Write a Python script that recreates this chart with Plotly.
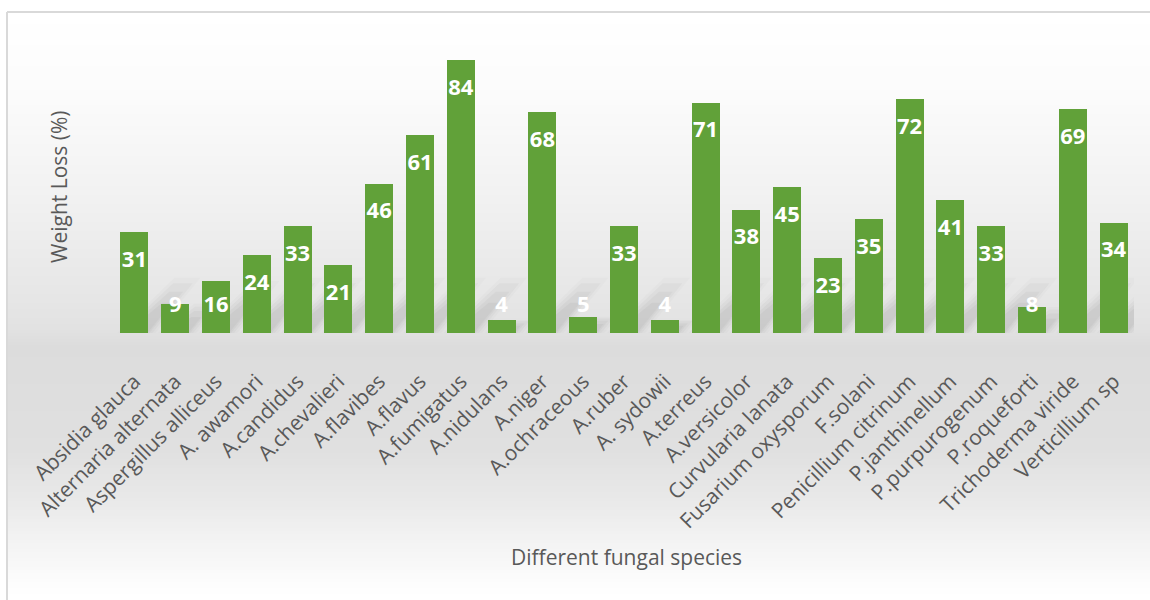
import plotly.graph_objects as go

# Weight loss (%) caused by each fungal species
species = [
    "Absidia glauca", "Alternaria alternata", "Aspergillus alliceus", "A. awamori",
    "A.candidus", "A.chevalieri", "A.flavibes", "A.flavus", "A.fumigatus",
    "A.nidulans", "A.niger", "A.ochraceous", "A.ruber", "A. sydowii", "A.terreus",
    "A.versicolor", "Curvularia lanata", "Fusarium oxysporum", "F.solani",
    "Penicillium citrinum", "P.janthinellum", "P.purpurogenum", "P.roqueforti",
    "Trichoderma viride", "Verticillium sp",
]
weight_loss = [31, 9, 16, 24, 33, 21, 46, 61, 84, 4, 68, 5, 33, 4, 71,
               38, 45, 23, 35, 72, 41, 33, 8, 69, 34]

W, H = 1150, 600
ML, MR, MT, MB = 114, 16, 41, 267
PLOT_H = H - MT - MB
PLOT_W = W - ML - MR
Y_MAX = 90

BAR = "#61a139"
TXT = "#595959"
FONT = "Open Sans"

xs = list(range(len(species)))


def py_to_paper(py):
    return (H - MB - py) / PLOT_H


def px_to_paper(px):
    return (px - ML) / PLOT_W


def hexmix(c1, c2, t):
    a = [int(c1[i:i + 2], 16) for i in (1, 3, 5)]
    b = [int(c2[i:i + 2], 16) for i in (1, 3, 5)]
    return "#" + "".join(f"{round(a[k] + (b[k] - a[k]) * t):02x}" for k in range(3))


# vertical background shading of the chart area (pixel y, colour)
stops = [(12, "#ffffff"), (100, "#fbfbfb"), (200, "#f1f1f1"), (300, "#e6e6e6"),
         (333, "#e1e1e1"), (345, "#dcdcdc"), (450, "#e0e0e0"), (500, "#e9e9e9"),
         (550, "#f5f5f5"), (590, "#fefefe"), (600, "#ffffff")]


def shade(py):
    for (y0, c0), (y1, c1) in zip(stops, stops[1:]):
        if y0 <= py <= y1:
            return hexmix(c0, c1, (py - y0) / (y1 - y0))
    return stops[-1][1]


shapes = []
step = 3
y = 12
while y < H:
    shapes.append(dict(
        type="rect", xref="paper", yref="paper", layer="below",
        x0=px_to_paper(7), x1=px_to_paper(W + 2),
        y0=py_to_paper(min(y + step, H + 1)), y1=py_to_paper(y),
        fillcolor=shade(y + step / 2), line=dict(width=0),
    ))
    y += step

# chart frame (top and left edges)
shapes.append(dict(type="line", xref="paper", yref="paper", layer="above",
                   x0=px_to_paper(7), x1=px_to_paper(W + 2),
                   y0=py_to_paper(12), y1=py_to_paper(12),
                   line=dict(color="#d9d9d9", width=2)))
shapes.append(dict(type="line", xref="paper", yref="paper", layer="above",
                   x0=px_to_paper(7), x1=px_to_paper(7),
                   y0=py_to_paper(12), y1=py_to_paper(H + 2),
                   line=dict(color="#d9d9d9", width=2)))

# soft diagonal shadows cast by the bars onto the back wall
for i, v in enumerate(weight_loss):
    for frac, grow, op in [(1.0, 0.22, 0.025), (0.9, 0.14, 0.035),
                           (0.75, 0.07, 0.045), (0.55, 0.02, 0.05)]:
        h = min(v, 17) * frac
        dx = 1.1 * h / 17
        x0 = i - 0.2 - grow
        x1 = i + 0.3 + grow
        path = (f"M {x0},0 L {x1},0 L {x1 + dx},{h} "
                f"L {x0 + dx + 0.3},{h} Z")
        shapes.append(dict(type="path", xref="x", yref="y", layer="below",
                           path=path, fillcolor=f"rgba(70,70,70,{op})",
                           line=dict(width=0)))

label_y = [max(v - 9, 8.3) for v in weight_loss]

fig = go.Figure()
fig.add_trace(go.Bar(
    x=xs, y=weight_loss, width=0.69,
    marker=dict(color=BAR, line=dict(width=0)),
    hoverinfo="skip",
))
fig.add_trace(go.Scatter(
    x=xs, y=label_y, mode="text",
    text=[str(v) for v in weight_loss],
    textposition="middle center",
    textfont=dict(family=FONT, size=22, color="white", weight="bold"),
    cliponaxis=False, hoverinfo="skip",
))

fig.update_layout(
    width=W, height=H,
    margin=dict(l=ML, r=MR, t=MT, b=MB, autoexpand=False),
    paper_bgcolor="white",
    plot_bgcolor="rgba(0,0,0,0)",
    showlegend=False,
    bargap=0,
    shapes=shapes,
    xaxis=dict(
        range=[-0.5, len(species) - 0.5],
        tickmode="array", tickvals=xs, ticktext=species,
        tickangle=-45, ticks="", showgrid=False, zeroline=False,
        showline=False, ticklabelstandoff=31,
        tickfont=dict(family=FONT, size=21, color=TXT),
    ),
    yaxis=dict(
        range=[0, Y_MAX], showticklabels=False, ticks="",
        showgrid=False, zeroline=False, showline=False,
    ),
    annotations=[
        dict(text="Different fungal species", xref="paper", yref="paper",
             x=px_to_paper(626), y=py_to_paper(557), showarrow=False,
             font=dict(family=FONT, size=21, color=TXT),
             xanchor="center", yanchor="middle"),
        dict(text="Weight Loss (%)", xref="paper", yref="paper",
             x=px_to_paper(59), y=py_to_paper(187), showarrow=False,
             textangle=-90,
             font=dict(family=FONT, size=21, color=TXT),
             xanchor="center", yanchor="middle"),
    ],
)

fig.write_html("out.html")
